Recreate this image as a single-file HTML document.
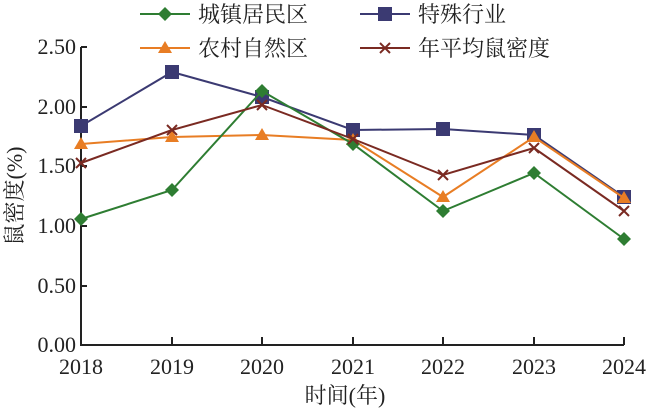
<!DOCTYPE html><html><head><meta charset="utf-8"><style>body{margin:0;background:#fff}svg{display:block}text{font-family:"Liberation Serif","Noto Serif CJK SC",serif;fill:#222}</style></head><body>
<svg width="650" height="408" viewBox="0 0 650 408">
<g stroke="#222" stroke-width="2" fill="none">
<path d="M81,47V345H624"/>
<path d="M81,47H87M81,107H87M81,166H87M81,226H87M81,286H87"/>
<path d="M172,345v-8M262,345v-8M353,345v-8M443,345v-8M534,345v-8M624,345v-8"/>
</g>
<g font-size="22" text-anchor="end">
<text x="76" y="54">2.50</text><text x="76" y="114">2.00</text><text x="76" y="173">1.50</text><text x="76" y="233">1.00</text><text x="76" y="293">0.50</text><text x="76" y="352">0.00</text>
</g>
<g font-size="22" text-anchor="middle">
<text x="81" y="374">2018</text><text x="172" y="374">2019</text><text x="262" y="374">2020</text><text x="353" y="374">2021</text><text x="443" y="374">2022</text><text x="534" y="374">2023</text><text x="624" y="374">2024</text>
<text x="345" y="403">时间(年)</text>
<text transform="translate(22,196) rotate(-90)">鼠密度(%)</text>
</g>
<polyline fill="none" stroke="#3b3a72" stroke-width="2" points="81,126 172,72 262,97 353,130 443,129 534,135 624,197"/>
<g fill="#3b3a72"><rect x="74" y="119" width="14" height="14"/><rect x="165" y="65" width="14" height="14"/><rect x="255" y="90" width="14" height="14"/><rect x="346" y="123" width="14" height="14"/><rect x="436" y="122" width="14" height="14"/><rect x="527" y="128" width="14" height="14"/><rect x="617" y="190" width="14" height="14"/></g>
<polyline fill="none" stroke="#e87d24" stroke-width="2" points="81,144 172,137 262,135 353,140 443,197 534,137 624,198"/>
<g fill="#e87d24"><path d="M81,137l7,12h-14z"/><path d="M172,130l7,12h-14z"/><path d="M262,128l7,12h-14z"/><path d="M353,133l7,12h-14z"/><path d="M443,190l7,12h-14z"/><path d="M534,130l7,12h-14z"/><path d="M624,191l7,12h-14z"/></g>
<polyline fill="none" stroke="#2e7d32" stroke-width="2" points="81,219 172,190 262,91 353,144 443,211 534,173 624,239"/>
<g fill="#2e7d32"><path d="M81,212l7,7-7,7-7-7z"/><path d="M172,183l7,7-7,7-7-7z"/><path d="M262,84l7,7-7,7-7-7z"/><path d="M353,137l7,7-7,7-7-7z"/><path d="M443,204l7,7-7,7-7-7z"/><path d="M534,166l7,7-7,7-7-7z"/><path d="M624,232l7,7-7,7-7-7z"/></g>
<polyline fill="none" stroke="#7a2a22" stroke-width="2" points="81,163 172,130 262,105 353,139 443,175 534,148 624,211"/>
<g stroke="#7a2a22" stroke-width="2"><path d="M76,158l10,10M86,158l-10,10"/><path d="M167,125l10,10M177,125l-10,10"/><path d="M257,100l10,10M267,100l-10,10"/><path d="M348,134l10,10M358,134l-10,10"/><path d="M438,170l10,10M448,170l-10,10"/><path d="M529,143l10,10M539,143l-10,10"/><path d="M619,206l10,10M629,206l-10,10"/></g>
<g stroke-width="2">
<path d="M140,14h50" stroke="#2e7d32"/><path d="M165,7l7,7-7,7-7-7z" fill="#2e7d32"/>
<path d="M360,14h50" stroke="#3b3a72"/><rect x="378" y="7" width="14" height="14" fill="#3b3a72"/>
<path d="M140,48h50" stroke="#e87d24"/><path d="M165,41l7,12h-14z" fill="#e87d24"/>
<path d="M360,48h50" stroke="#7a2a22"/><path d="M380,43l10,10M390,43l-10,10" stroke="#7a2a22"/>
</g>
<g font-size="22"><text x="198" y="22">城镇居民区</text><text x="418" y="22">特殊行业</text><text x="198" y="56">农村自然区</text><text x="418" y="56">年平均鼠密度</text></g>
</svg></body></html>
